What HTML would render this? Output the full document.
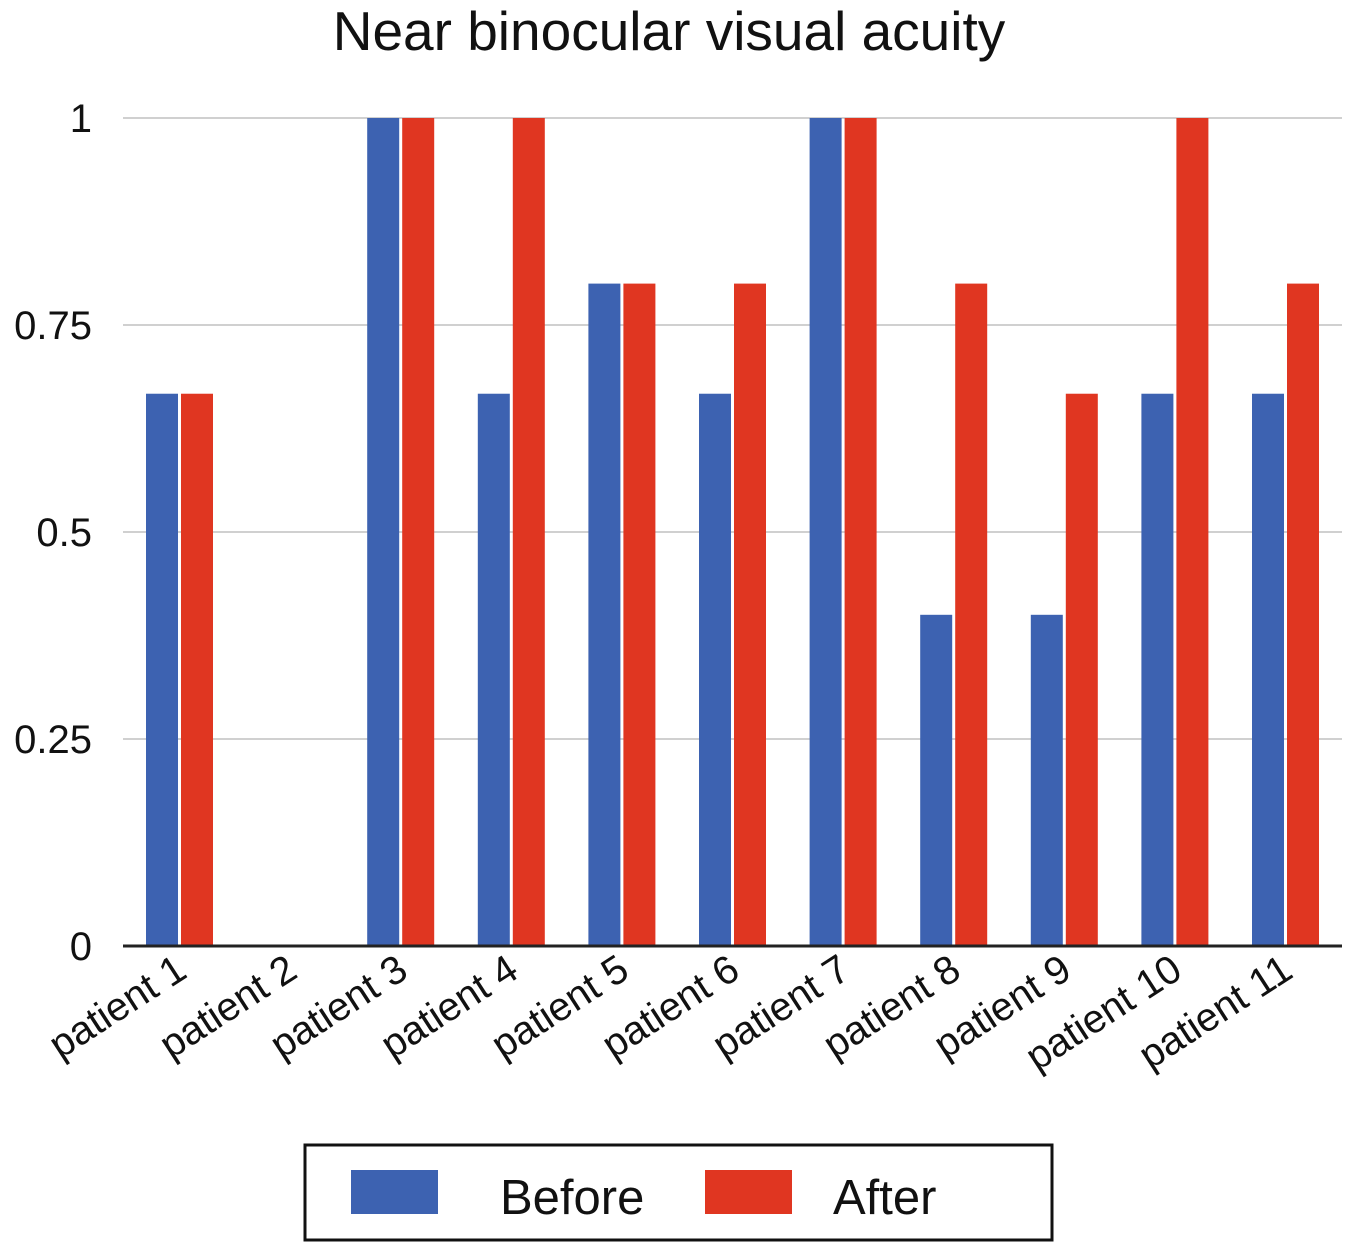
<!DOCTYPE html>
<html><head><meta charset="utf-8"><style>
body{margin:0;background:#fff;}
svg{display:block;font-family:"Liberation Sans",Arial,sans-serif;}
</style></head><body>
<svg id="chart" width="1348" height="1244" viewBox="0 0 1348 1244">
<text x="669" y="50" text-anchor="middle" font-size="55" fill="#111">Near binocular visual acuity</text>
<g id="grid"></g><g id="bars"></g><g id="xlabels"></g>
<line x1="123" y1="946" x2="1342" y2="946" stroke="#222" stroke-width="3"/>
<g>
<rect x="305" y="1145" width="747" height="95" fill="#fff" stroke="#111" stroke-width="3"/>
<rect x="351" y="1170" width="87" height="44" fill="#3d62b1"/>
<text x="500" y="1214" font-size="49" fill="#111">Before</text>
<rect x="705" y="1170" width="87" height="44" fill="#e03621"/>
<text x="833" y="1214" font-size="49" fill="#111">After</text>
</g>
</svg>
<script>
const categories=["patient 1","patient 2","patient 3","patient 4","patient 5","patient 6","patient 7","patient 8","patient 9","patient 10","patient 11"];
const before=[0.667,0,1,0.667,0.8,0.667,1,0.4,0.4,0.667,0.667];
const after=[0.667,0,1,1,0.8,0.8,1,0.8,0.667,1,0.8];
const ticks=[0,0.25,0.5,0.75,1];
const tickLabels=["0","0.25","0.5","0.75","1"];
const NS="http://www.w3.org/2000/svg";
const x0=123.7,band=110.6,y0=946,yTop=118;
const y=v=>y0-(y0-yTop)*v;
const cx=i=>x0+band*(i+0.5);
function mk(tag,attrs,parent){const e=document.createElementNS(NS,tag);for(const k in attrs)e.setAttribute(k,attrs[k]);parent.appendChild(e);return e;}
const grid=document.getElementById('grid'),bars=document.getElementById('bars'),xl=document.getElementById('xlabels');
ticks.forEach((t,i)=>{
 if(t>0){const l=mk('line',{x1:123,x2:1342,y1:y(t),y2:y(t),stroke:'#d0d0d0','stroke-width':2},grid);
 
 }
 const tx=mk('text',{x:92,y:y(t)+14,'text-anchor':'end','font-size':40,fill:'#111'},grid);
 tx.textContent=tickLabels[i];
 
 
});
categories.forEach((c,i)=>{
 const c0=cx(i);
 if(before[i]>0){const b=mk('rect',{x:c0-33,y:y(before[i]),width:32,height:y0-y(before[i]),fill:'#3d62b1'},bars);
 
 }
 if(after[i]>0){const r=mk('rect',{x:c0+2,y:y(after[i]),width:32,height:y0-y(after[i]),fill:'#e03621'},bars);
 
 }
 const ax=c0+10,ay=976;
 const t=mk('text',{x:ax,y:ay,'text-anchor':'end','font-size':40,fill:'#111',transform:`rotate(-33 ${ax} ${ay})`},xl);
 t.textContent=c;
 
 
});
</script>
</body></html>
